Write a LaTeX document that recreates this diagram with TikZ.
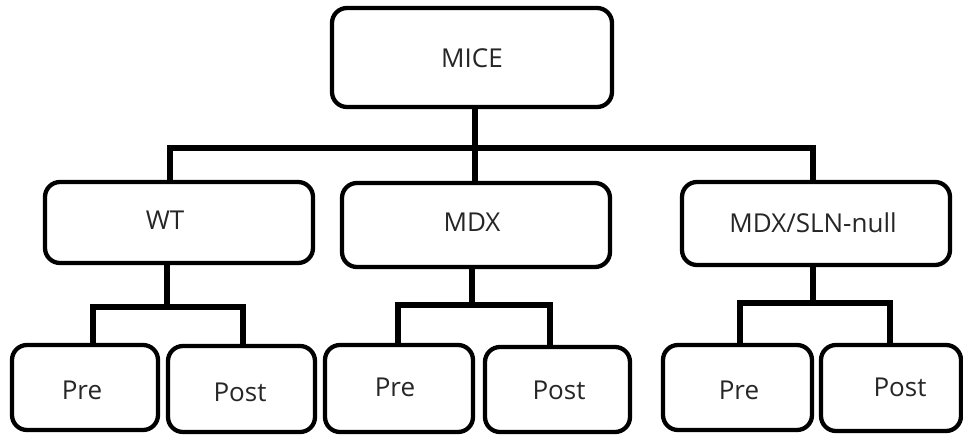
\documentclass[tikz,border=0pt]{standalone}
\usepackage{fontspec}
\setmainfont{Open Sans}
\begin{document}
\begin{tikzpicture}[x=1pt,y=-1pt,
  box/.style={draw=black,line width=4.3pt,rounded corners=15pt,fill=white,inner sep=0pt},
  lbl/.style={font=\fontsize{26}{31}\selectfont,text=black!85},
  conn/.style={draw=black,line width=5.5pt,line join=miter}]
\useasboundingbox (0,0) rectangle (963,434);
% boxes
\node[box,minimum width=280pt,minimum height=99pt] (mice) at (472,57.5) {};
\node[box,minimum width=268pt,minimum height=81pt] (wt) at (179,222.5) {};
\node[box,minimum width=268pt,minimum height=84pt] (mdx) at (476,225) {};
\node[box,minimum width=268pt,minimum height=83pt] (sln) at (816,223.5) {};
\node[box,minimum width=146pt,minimum height=85pt] (pre1) at (85,387.5) {};
\node[box,minimum width=147pt,minimum height=86pt] (post1) at (241.5,389) {};
\node[box,minimum width=148pt,minimum height=87pt] (pre2) at (399,388.5) {};
\node[box,minimum width=145pt,minimum height=85pt] (post2) at (557.5,389.5) {};
\node[box,minimum width=149pt,minimum height=85pt] (pre3) at (737.5,387.5) {};
\node[box,minimum width=140pt,minimum height=86pt] (post3) at (891,388) {};
% labels
\node[lbl] (tmice) at (472,58) {MICE};
\node[lbl] (twt) at (165,220) {WT};
\node[lbl] (tmdx) at (472,222) {MDX};
\node[lbl] (tsln) at (813,223) {MDX/SLN-null};
\node[lbl] (tpre1) at (82,390) {Pre};
\node[lbl] (tpost1) at (240,392) {Post};
\node[lbl] (tpre2) at (395,387) {Pre};
\node[lbl] (tpost2) at (559,390) {Post};
\node[lbl] (tpre3) at (739,390) {Pre};
\node[lbl] (tpost3) at (900,387) {Post};
% junction coordinates
\coordinate (j0) at (475,148);
\coordinate (jL) at (170,148);
\coordinate (jR) at (813,148);
\coordinate (a0) at (167,307);
\coordinate (aL) at (93,307);
\coordinate (aR) at (243,307);
\coordinate (b0) at (472,305);
\coordinate (bL) at (398,305);
\coordinate (bR) at (550,305);
\coordinate (c0) at (813,303);
\coordinate (cL) at (740,303);
\coordinate (cR) at (890,303);
% connectors
\draw[conn] (mice.south -| j0) -- (mdx.north -| j0);
\draw[conn] (wt.north -| jL) -- (jL) -- (jR) -- (sln.north -| jR);
\draw[conn] (wt.south -| a0) -- (a0);
\draw[conn] (pre1.north -| aL) -- (aL) -- (aR) -- (post1.north -| aR);
\draw[conn] (mdx.south -| b0) -- (b0);
\draw[conn] (pre2.north -| bL) -- (bL) -- (bR) -- (post2.north -| bR);
\draw[conn] (sln.south -| c0) -- (c0);
\draw[conn] (pre3.north -| cL) -- (cL) -- (cR) -- (post3.north -| cR);
\end{tikzpicture}
\end{document}
